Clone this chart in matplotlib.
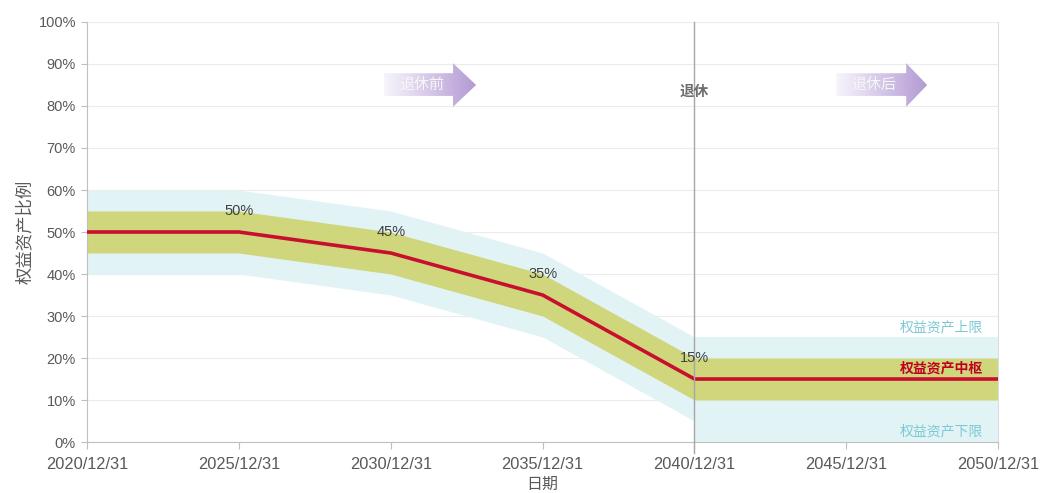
import matplotlib
matplotlib.use("Agg")
import matplotlib.pyplot as plt
import numpy as np
from matplotlib.patches import Polygon

plt.rcParams['font.family'] = ['Liberation Sans', 'Noto Sans CJK SC', 'DejaVu Sans']

years = [2020, 2025, 2030, 2035, 2040, 2045, 2050]
tick_labels = ["2020/12/31", "2025/12/31", "2030/12/31", "2035/12/31",
               "2040/12/31", "2045/12/31", "2050/12/31"]
center = [50, 50, 45, 35, 15, 15, 15]
inner_upper = [55, 55, 50, 40, 20, 20, 20]
inner_lower = [45, 45, 40, 30, 10, 10, 10]
outer_upper = [60, 60, 55, 45, 25, 25, 25]
outer_lower_pre = [40, 40, 35, 25, 5]
outer_lower_post = [0, 0, 0]
label_years = [2025, 2030, 2035, 2040]
label_values = [50, 45, 35, 15]
retire_year = 2040

fig = plt.figure(figsize=(10.42, 4.93), dpi=100)
ax = fig.add_axes([0.0835, 0.1034, 0.8745, 0.852])

light = "#e2f3f6"
olive = "#cfd67b"
red = "#c8102e"
gray_txt = "#595959"

# bands
ax.fill_between(years[:5], outer_lower_pre, outer_upper[:5], color=light, lw=0, zorder=1)
ax.fill_between(years[4:], outer_lower_post, outer_upper[4:], color=light, lw=0, zorder=1)
ax.fill_between(years, inner_lower, inner_upper, color=olive, lw=0, zorder=2)
ax.plot(years, center, color=red, lw=2.6, zorder=3, solid_joinstyle='miter')

for x, v in zip(label_years, label_values):
    ax.text(x, v + 5, f"{v}%", ha='center', va='center', fontsize=10.5, color="#404040", zorder=5)

ax.set_xlim(2020, 2050)
ax.set_ylim(0, 100)
ax.set_xticks(years)
ax.set_xticklabels(tick_labels)
ax.set_yticks(range(0, 101, 10))
ax.set_yticklabels([f"{v}%" for v in range(0, 101, 10)])
ax.tick_params(axis='x', length=5, color="#bfbfbf", labelsize=11.8, labelcolor=gray_txt, pad=6)
ax.tick_params(axis='y', length=4, color="#bfbfbf", labelsize=10.5, labelcolor=gray_txt, pad=4)
ax.grid(axis='y', color="#ececec", lw=0.8, zorder=0)
ax.set_axisbelow(True)
ax.spines['top'].set_visible(False)
ax.spines['left'].set_color("#bfbfbf")
ax.spines['bottom'].set_color("#bfbfbf")
ax.spines['right'].set_color("#dddddd")

ax.set_ylabel("权益资产比例", fontsize=12.5, color=gray_txt, labelpad=4)
ax.set_xlabel("日期", fontsize=11.5, color=gray_txt, labelpad=3)

# retirement vertical line
ax.axvline(retire_year, color="#a6a6a6", lw=1.0, zorder=4, ymin=-0.025, ymax=1, clip_on=False)
ax.text(retire_year, 83.3, "退休", ha='center', va='center', fontsize=10.5,
        color="#6e6e6e", fontweight='bold', zorder=5)

# gradient arrows
def grad_arrow(x0, xh, xt, yb0, yb1, yh0, yh1, ytip, label):
    verts = [(x0, yb0), (xh, yb0), (xh, yh0), (xt, ytip), (xh, yh1), (xh, yb1), (x0, yb1)]
    poly = Polygon(verts, closed=True, facecolor='none', edgecolor='none', zorder=4)
    ax.add_patch(poly)
    c0 = np.array([0.97, 0.96, 0.99])
    c1 = np.array([0.70, 0.60, 0.83])
    t = np.linspace(0, 1, 256)
    img = (c0[None, :] * (1 - t[:, None]) + c1[None, :] * t[:, None])[None, :, :]
    im = ax.imshow(img, extent=[x0, xt, yh0, yh1], aspect='auto', zorder=4, interpolation='bilinear')
    im.set_clip_path(poly)
    ax.text((x0 + xh) / 2 + 0.1, ytip, label, ha='center', va='center', fontsize=10.8,
            color="#f6f6f6", zorder=6)

grad_arrow(2029.78, 2032.05, 2032.81, 82.4, 87.8, 79.8, 90.2, 85.0, "退休前")
grad_arrow(2044.66, 2046.97, 2047.66, 82.4, 87.8, 79.8, 90.2, 85.0, "退休后")
ax.set_xlim(2020, 2050)
ax.set_ylim(0, 100)

ax.text(2049.5, 27.4, "权益资产上限", ha='right', va='center', fontsize=10, color="#7cc8d4", zorder=6)
ax.text(2049.5, 17.6, "权益资产中枢", ha='right', va='center', fontsize=10, color="#c00020",
        fontweight='bold', zorder=6)
ax.text(2049.5, 2.6, "权益资产下限", ha='right', va='center', fontsize=10, color="#7cc8d4", zorder=6)

fig.savefig("out.png", dpi=100)
